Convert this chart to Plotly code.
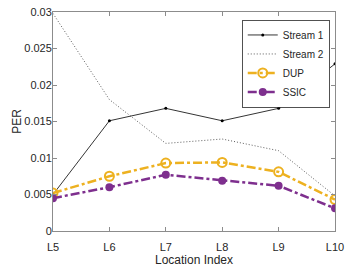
import plotly.graph_objects as go

locations = ["L5", "L6", "L7", "L8", "L9", "L10"]
stream1 = [0.0050, 0.0151, 0.0168, 0.0151, 0.0168, 0.0229]
stream2 = [0.0298, 0.0180, 0.0120, 0.0126, 0.0110, 0.0048]
dup = [0.0052, 0.0075, 0.0093, 0.0094, 0.0081, 0.0043]
ssic = [0.0045, 0.0060, 0.0077, 0.0069, 0.0062, 0.0031]

x = list(range(len(locations)))

fig = go.Figure()
fig.add_trace(go.Scatter(x=x, y=stream1, name="Stream 1", mode="lines+markers",
                         line=dict(color="black", width=0.8),
                         marker=dict(size=3, color="black")))
fig.add_trace(go.Scatter(x=x, y=stream2, name="Stream 2", mode="lines",
                         line=dict(color="#333333", width=0.8, dash="1px,2px")))
fig.add_trace(go.Scatter(x=x, y=dup, name="DUP", mode="lines+markers",
                         line=dict(color="#EDB120", width=2.5, dash="dashdot"),
                         marker=dict(size=9, symbol="circle-open", color="#EDB120",
                                     line=dict(width=2, color="#EDB120"))))
fig.add_trace(go.Scatter(x=x, y=ssic, name="SSIC", mode="lines+markers",
                         line=dict(color="#7E2F8E", width=2.5, dash="dashdot"),
                         marker=dict(size=8, color="#7E2F8E")))

axis_common = dict(showline=True, linecolor="#8c8c8c", linewidth=1, mirror="ticks",
                   ticks="inside", ticklen=4, tickcolor="#8c8c8c", showgrid=False,
                   zeroline=False, automargin=False,
                   tickfont=dict(size=11, color="#262626"))

fig.update_layout(
    width=346, height=272,
    margin=dict(l=53, r=11, t=12, b=41),
    paper_bgcolor="white", plot_bgcolor="white",
    font=dict(family="Liberation Sans, Arial, sans-serif", size=11, color="#262626"),
    xaxis=dict(tickmode="array", tickvals=x, ticktext=locations, range=[0, 5],
               ticklabelstandoff=6,
               title=dict(text="Location Index", font=dict(size=12), standoff=2),
               **axis_common),
    yaxis=dict(range=[0, 0.03], tickvals=[0, 0.005, 0.01, 0.015, 0.02, 0.025, 0.03],
               ticktext=["0", "0.005", "0.01", "0.015", "0.02", "0.025", "0.03"],
               ticklabelstandoff=-2,
               title=dict(text="PER", font=dict(size=12), standoff=0),
               **axis_common),
    legend=dict(x=0.67, y=0.965, xanchor="left", yanchor="top",
                bordercolor="#262626", borderwidth=0.8, bgcolor="white",
                font=dict(size=10), tracegroupgap=0, itemwidth=30),
    showlegend=True,
)

fig.write_html("out.html", config={"displayModeBar": False},
               post_script="document.body.style.margin='0';")
